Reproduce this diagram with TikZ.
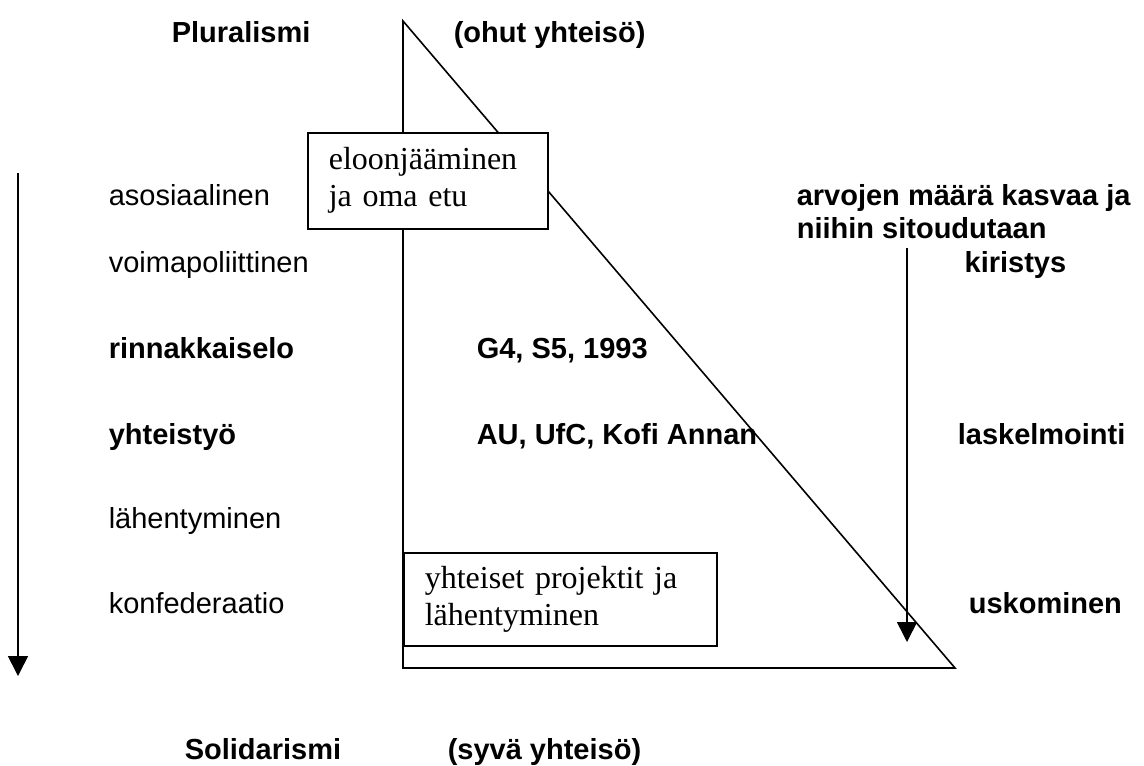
\documentclass[tikz,border=0pt]{standalone}
\usepackage{fontspec}
\setmainfont{Liberation Sans}
\newfontfamily\boxfont{Liberation Serif}
\usetikzlibrary{arrows.meta}

\tikzset{
  lbl/.style={anchor=base west, inner sep=0pt, font=\fontsize{14.5}{16.5}\selectfont},
  blbl/.style={lbl, font=\fontsize{14.5}{16.5}\selectfont\bfseries},
  rlbl/.style={blbl, anchor=base east},
  lbox/.style={draw, fill=white, anchor=north west, inner xsep=10.5pt, inner ysep=0pt,
    align=left, font=\boxfont\fontsize{16}{18.5}\selectfont},
  arr/.style={-{Triangle[width=10pt,length=10pt]}}
}

\begin{document}
\begin{tikzpicture}[x=0.5pt, y=-0.5pt, line width=0.8pt]
\useasboundingbox (0,0) rectangle (1144,765);

%kolmio
\coordinate (t1) at (403,21);
\coordinate (t2) at (403,668);
\coordinate (t3) at (955,668);
\draw (t1)--(t2)--(t3)--cycle;

%nuolet
\coordinate (a1) at (18,173);
\coordinate (a2) at (18,676);
\coordinate (b1) at (907,248);
\coordinate (b2) at (907,642);
\draw [arr] (a1)--(a2);
\draw [arr] (b1)--(b2);

%laatikot
\node [lbox, minimum width=120pt, minimum height=48pt, text width=99pt] (eloon) at (307,132)
  {eloonjääminen\\ja oma etu};
\node [lbox, minimum width=156.5pt, minimum height=46.5pt, text width=135.5pt] (proj) at (403,552)
  {yhteiset projektit ja\\lähentyminen};

%otsikot
\node [blbl] (plur) at (171,43) {Pluralismi};
\node [blbl] (ohut) at (453,43) {(ohut yhteisö)};
\node [blbl] (soli) at (184,759) {Solidarismi};
\node [blbl] (syva) at (447,759) {(syvä yhteisö)};

%vasen sarake
\node [lbl] (aso) at (108,205) {asosiaalinen};
\node [lbl] (voima) at (108,272) {voimapoliittinen};
\node [blbl] (rinn) at (108,358) {rinnakkaiselo};
\node [blbl] (yht) at (108,444) {yhteistyö};
\node [lbl] (lah) at (108,528) {lähentyminen};
\node [lbl] (konf) at (108,613) {konfederaatio};

%keskellä
\node [blbl] (g4) at (476,358) {G4, S5, 1993};
\node [blbl] (au) at (476,444) {AU, UfC, Kofi Annan};

%oikea sarake
\node [blbl] (arvo1) at (796,205) {arvojen määrä kasvaa ja};
\node [blbl] (arvo2) at (796,238) {niihin sitoudutaan};
\node [rlbl] (kiri) at (1067,272) {kiristys};
\node [blbl] (lask) at (957,444) {laskelmointi};
\node [blbl] (usko) at (968,613) {uskominen};

\end{tikzpicture}
\end{document}
